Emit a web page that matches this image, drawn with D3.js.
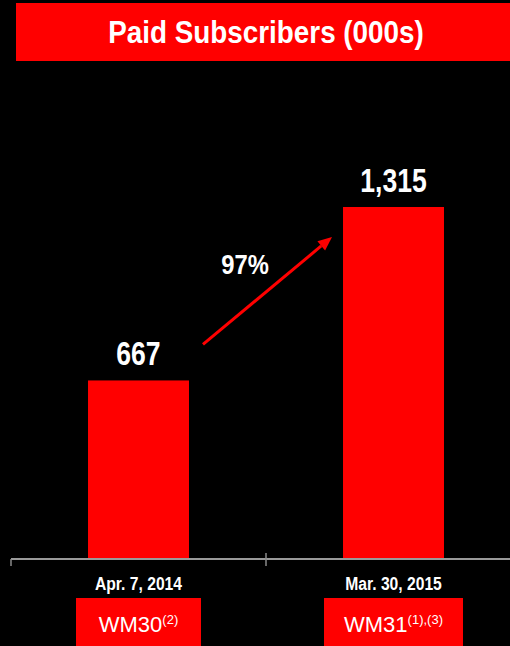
<!DOCTYPE html>
<html>
<head>
<meta charset="utf-8">
<script src="https://cdn.jsdelivr.net/npm/d3@7"></script>
<style>
  html, body { margin: 0; padding: 0; background: #000; }
  svg { display: block; }
</style>
</head>
<body>
<div id="chart"></div>
<script>
// Paid subscribers, in thousands, at the two WrestleMania dates
const categories = ["Apr. 7, 2014", "Mar. 30, 2015"];
const subscribers = [667, 1315];
const valueLabels = ["667", "1,315"];
const eventNames = ["WM30", "WM31"];
const eventNotes = ["(2)", "(1),(3)"];
const growthLabel = "97%";
const title = "Paid Subscribers (000s)";

const W = 510, H = 646;
const RED = "#ff0000";
const SANS = "'Liberation Sans', Arial, Helvetica, sans-serif";

const svg = d3.select("#chart").append("svg")
  .attr("width", W).attr("height", H)
  .style("background", "#000");

// Condensed bold text: horizontally squeezed sans
function condensed(sel, cx, cy, size, squeeze) {
  return sel.append("text")
    .attr("transform", `translate(${cx},${cy}) scale(${squeeze},1)`)
    .attr("text-anchor", "middle")
    .attr("fill", "#fff")
    .style("font-family", SANS).style("font-weight", "bold").style("font-size", size + "px");
}

// Title band
svg.append("rect")
  .attr("x", 16).attr("y", 3).attr("width", W - 16).attr("height", 58)
  .attr("fill", RED);
condensed(svg, 266, 43, 32, 0.87).text(title);

// Scales
const baseY = 559;
const x = d3.scaleBand()
  .domain(categories)
  .range([11, 521])
  .paddingInner(0.604)
  .paddingOuter(0.302);

const y = d3.scaleLinear()
  .domain([0, 1315])
  .range([baseY, 207]);

// Bars
svg.selectAll("rect.bar")
  .data(subscribers)
  .join("rect")
  .attr("class", "bar")
  .attr("x", (d, i) => x(categories[i]))
  .attr("y", d => y(d))
  .attr("width", x.bandwidth())
  .attr("height", d => y(0) - y(d))
  .attr("fill", RED);

// Value labels
subscribers.forEach((d, i) => {
  condensed(svg, x(categories[i]) + x.bandwidth() / 2, y(d) - 15, 34, 0.78)
    .text(valueLabels[i]);
});

// Category axis along the baseline
const axisG = svg.append("g").attr("transform", `translate(0,${baseY})`);
axisG.append("line")
  .attr("x1", x.range()[0]).attr("x2", W)
  .attr("y1", 0).attr("y2", 0)
  .attr("stroke", "#9a9a9a").attr("stroke-width", 2);
const boundaries = [x.range()[0], x(categories[1]) - x.step() * x.paddingInner() / 2];
axisG.selectAll("line.tick")
  .data(boundaries)
  .join("line")
  .attr("class", "tick")
  .attr("x1", d => d).attr("x2", d => d)
  .attr("y1", (d, i) => i === 0 ? 0 : -6)
  .attr("y2", 7)
  .attr("stroke", "#8a8a8a").attr("stroke-width", 1.5);

// Date labels
categories.forEach(c => {
  condensed(svg, x(c) + x.bandwidth() / 2, 590, 18, 0.87).text(c);
});

// Event boxes
const boxW = [125, 139];
const boxes = svg.selectAll("g.event")
  .data(eventNames)
  .join("g")
  .attr("class", "event")
  .attr("transform", (d, i) => `translate(${x(categories[i]) + x.bandwidth() / 2},0)`);
boxes.append("rect")
  .attr("x", (d, i) => -boxW[i] / 2)
  .attr("y", 598)
  .attr("width", (d, i) => boxW[i])
  .attr("height", 48)
  .attr("fill", RED);
const evText = boxes.append("text")
  .attr("x", 0).attr("y", 632)
  .attr("text-anchor", "middle")
  .attr("fill", "#fff")
  .style("font-family", SANS).style("font-size", "22px");
evText.append("tspan").text(d => d);
evText.append("tspan")
  .attr("dy", -8)
  .style("font-size", "13px")
  .text((d, i) => eventNotes[i]);

// Growth arrow between the bars
const x0 = x(categories[0]) + x.bandwidth() + 14, y0 = y(subscribers[0]) - 36;
const x1 = x(categories[1]) - 11, y1 = y(subscribers[1]) + 30;
const ang = Math.atan2(y1 - y0, x1 - x0);
const headLen = 14, headHalf = 6;
const bx = x1 - headLen * Math.cos(ang), by = y1 - headLen * Math.sin(ang);
svg.append("line")
  .attr("x1", x0).attr("y1", y0).attr("x2", bx).attr("y2", by)
  .attr("stroke", RED).attr("stroke-width", 3);
svg.append("path")
  .attr("d", d3.line()([
    [x1, y1],
    [bx + headHalf * Math.sin(ang), by - headHalf * Math.cos(ang)],
    [bx - headHalf * Math.sin(ang), by + headHalf * Math.cos(ang)]
  ]) + "Z")
  .attr("fill", RED);

condensed(svg, 245, 274, 27, 0.88).text(growthLabel);
</script>
</body>
</html>
